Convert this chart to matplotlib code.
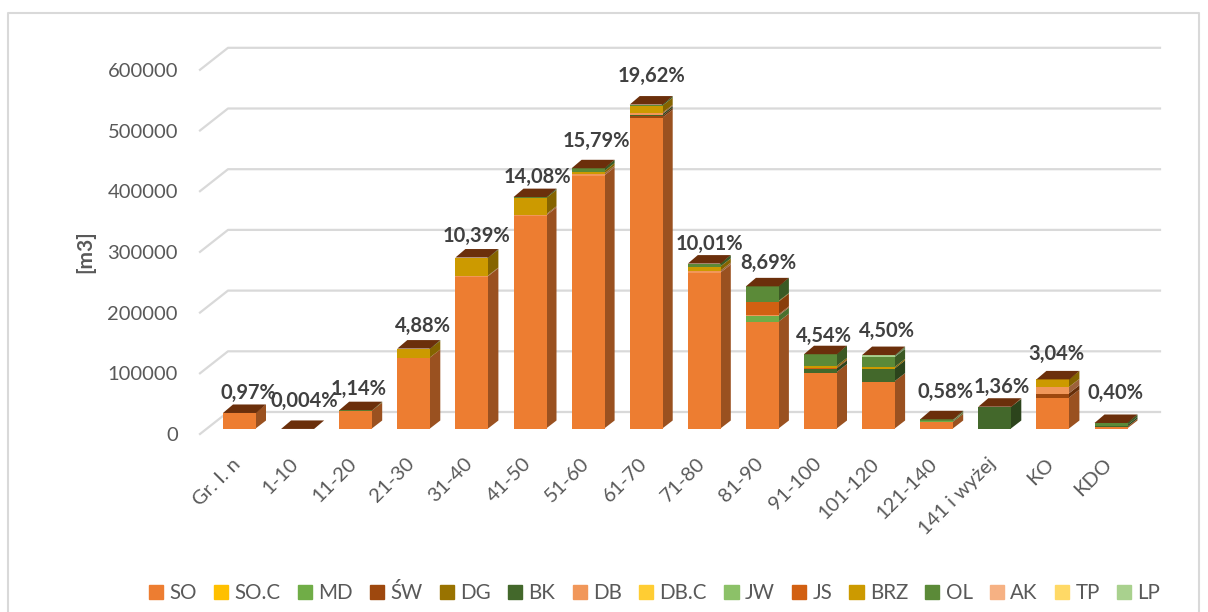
# to run: python3 plot.py
# Stacked columns with a hand made 3D look (front, side and top faces).

import numpy as np
from matplotlib import pyplot as plt
from matplotlib.patches import Patch

plt.rcParams['font.family'] = ['Lato', 'DejaVu Sans']

categories = ['Gr. I. n', '1-10', '11-20', '21-30', '31-40', '41-50', '51-60', '61-70',
              '71-80', '81-90', '91-100', '101-120', '121-140', '141 i wyżej', 'KO', 'KDO']
percent = ['0,97%', '0,004%', '1,14%', '4,88%', '10,39%', '14,08%', '15,79%', '19,62%',
           '10,01%', '8,69%', '4,54%', '4,50%', '0,58%', '1,36%', '3,04%', '0,40%']

so   = [26400, 100, 29500, 117000, 251000, 351000, 417000, 512000, 257000, 176000, 93000, 78000, 11000, 0, 51000, 2700]
so_c = [0, 0, 0, 0, 0, 0, 0, 0, 0, 0, 0, 0, 0, 0, 0, 0]
md   = [0, 0, 300, 0, 0, 0, 0, 0, 0, 10000, 0, 0, 2000, 0, 0, 0]
sw   = [0, 0, 0, 0, 0, 0, 0, 3000, 0, 0, 0, 0, 0, 0, 7100, 0]
dg   = [0, 0, 0, 0, 0, 0, 0, 0, 0, 0, 0, 0, 0, 0, 0, 0]
bk   = [0, 0, 0, 0, 0, 0, 0, 3000, 0, 0, 6000, 21000, 0, 35700, 0, 3000]
db   = [0, 0, 0, 0, 1000, 2000, 3000, 2000, 3000, 2000, 0, 0, 1000, 1000, 10400, 0]
db_c = [0, 0, 0, 0, 0, 0, 0, 0, 0, 0, 0, 0, 0, 0, 0, 0]
jw   = [0, 0, 0, 0, 0, 0, 0, 0, 0, 0, 0, 0, 0, 0, 0, 0]
js   = [0, 0, 0, 0, 0, 0, 0, 0, 0, 21000, 1500, 0, 0, 0, 0, 0]
brz  = [0, 0, 500, 14500, 29500, 27000, 4000, 12000, 7000, 1000, 2700, 2500, 0, 0, 13200, 0]
ol   = [0, 0, 700, 1000, 1000, 2000, 5500, 2500, 5500, 25000, 20000, 16500, 2000, 0, 0, 4200]
ak   = [0, 0, 0, 0, 0, 0, 0, 0, 0, 0, 0, 0, 0, 0, 0, 0]
tp   = [0, 0, 0, 0, 0, 0, 0, 0, 0, 0, 0, 0, 0, 0, 0, 0]
lp   = [0, 0, 0, 0, 0, 0, 0, 0, 0, 0, 0, 3800, 0, 0, 0, 0]

series = [so, so_c, md, sw, dg, bk, db, db_c, jw, js, brz, ol, ak, tp, lp]
names = ['SO', 'SO.C', 'MD', 'ŚW', 'DG', 'BK', 'DB', 'DB.C', 'JW', 'JS', 'BRZ', 'OL', 'AK', 'TP', 'LP']
colors = ['#ED7D31', '#FFC000', '#70AD47', '#9E480E', '#997300', '#43682B', '#F1975A', '#FFCD33',
          '#8CC168', '#D26012', '#CC9A00', '#5B8A38', '#F6B183', '#FFD966', '#A9D18E']
yticks = [0, 100000, 200000, 300000, 400000, 500000, 600000]

# label offsets from the top of each column, in pixels
label_dx = [8.5, 6.4, 3.3, 9, 5, 7, 8, 5, 5, 5.6, 3.5, 8.4, 8.3, 7.2, 4, 4]
label_dy = [20, 28, 21, 22.5, 21.5, 20, 27, 29, 20, 23, 18, 24, 27.5, 20, 25, 30]

# pixel geometry of the picture
W = 1208 ; H = 612
x0_px = 239.5 ; step_px = 58.1 ; base_px = 429.0 ; unit_px = 60.7
px_x = 1.0 / step_px
px_y = 100000.0 / unit_px
depth_x = 10 * px_x ; depth_y = 8.5 * px_y
half = 16.5 * px_x

fig = plt.figure(figsize=(W / 100, H / 100), dpi=100)
ax = fig.add_axes([0, 0, 1, 1])
ax.set_xlim(-x0_px * px_x, (W - x0_px) * px_x)
ax.set_ylim(-(H - base_px) * px_y, base_px * px_y)
ax.axis('off')

def X(p):
   return (p - x0_px) * px_x

def Y(p):
   return (base_px - p) * px_y

# chart border
ax.plot([X(8.5), X(8.5), X(1199), X(1199)], [Y(612), Y(12.5), Y(12.5), Y(612)], color='#D9D9D9', lw=1.5)

# walls: gridlines on the back, short diagonal on the floor side
grid_lift = 17 * px_y
for v in yticks:
   ax.plot([X(200), X(228), X(1160)], [v - 5 * px_y, v + grid_lift, v + grid_lift],
           color='#D9D9D9', lw=1.6, zorder=1)
   ax.text(X(178), v - 6.5 * px_y, str(v), ha='right', va='center', fontsize=14.5, color='#595959')

ax.text(X(85), Y(252), '[m3]', rotation=90, ha='center', va='center', fontsize=15,
        fontweight='bold', color='#595959')

# columns
idx = np.arange(len(categories))
bottom = np.zeros(len(categories))
for vals, col in zip(series, colors):
   vals = np.array(vals, dtype=float)
   ax.bar(idx, vals, width=2 * half, bottom=bottom, color=col, linewidth=0, zorder=3)
   rgb = np.array(plt.matplotlib.colors.to_rgb(col)) * 0.65
   for i in idx:
      if vals[i] > 0:
         xr = i + half
         # side face starts a pixel behind the front so no seam shows
         ax.fill([xr - px_x, xr + depth_x, xr + depth_x, xr - px_x],
                 [bottom[i], bottom[i] + depth_y, bottom[i] + vals[i] + depth_y, bottom[i] + vals[i]],
                 color=rgb, linewidth=0, zorder=2.5)
   bottom = bottom + vals

for i in idx:
   ax.fill([i - half, i + half, i + half + depth_x, i - half + depth_x],
           [bottom[i], bottom[i], bottom[i] + depth_y, bottom[i] + depth_y],
           color='#6B2F0B', linewidth=0, zorder=4)
   ax.annotate(percent[i], (i, bottom[i]), xytext=(label_dx[i], label_dy[i]), textcoords='offset pixels',
               ha='center', va='center', fontsize=14.5, fontweight='bold', color='#404040', zorder=5)
   ax.text(i - 2 * px_x, Y(461), categories[i], rotation=45, rotation_mode='anchor',
           ha='right', va='center', fontsize=14.5, color='#595959')

handles = [Patch(color=c, label=n) for c, n in zip(colors, names)]
ax.legend(handles=handles, ncol=15, loc='center', bbox_to_anchor=(0.5418, 1 - 593 / H), frameon=False,
          fontsize=14.8, labelcolor='#595959', handlelength=0.7, handleheight=0.7,
          handletextpad=0.3, columnspacing=0.83, borderpad=0, borderaxespad=0)

plt.savefig('out.png', dpi=100)
